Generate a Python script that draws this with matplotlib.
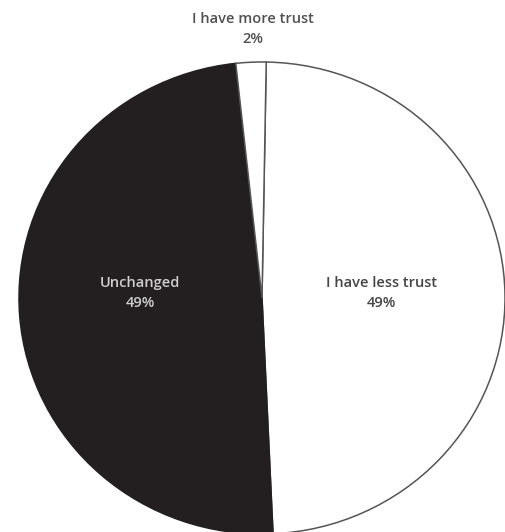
import matplotlib
matplotlib.use("Agg")
import matplotlib.pyplot as plt

labels = ["I have less trust", "Unchanged", "I have more trust"]
values = [49, 49, 2]
pct_labels = ["49%", "49%", "2%"]

fig = plt.figure(figsize=(5.05, 5.32), dpi=100)
ax = fig.add_axes([19/505, -2/532, 486/505, 472/532])
wedges, _ = ax.pie(values, startangle=89, counterclock=False,
                   colors=["white", "#231f20", "white"],
                   wedgeprops=dict(edgecolor="#555555", linewidth=1.1))
wedges[1].set_edgecolor("#231f20")
ax.set_aspect("auto")
ax.set_xlim(-1.0, 1.0)
ax.set_ylim(-1.0, 1.0)
ax.axis("off")

font = ["Open Sans", "DejaVu Sans"]
kw = dict(ha="center", va="center", fontsize=10.5, family=font,
          linespacing=1.55, fontweight="semibold")
ax.text(0.49, 0.021, f"{labels[0]}\n{pct_labels[0]}", color="#444444", **kw)
ax.text(-0.502, 0.021, f"{labels[1]}\n{pct_labels[1]}", color="#cfcfcf", **kw)
ax.text(-0.037, 1.14, f"{labels[2]}\n{pct_labels[2]}", color="#505050", **kw)

fig.savefig("out.png", dpi=100)
